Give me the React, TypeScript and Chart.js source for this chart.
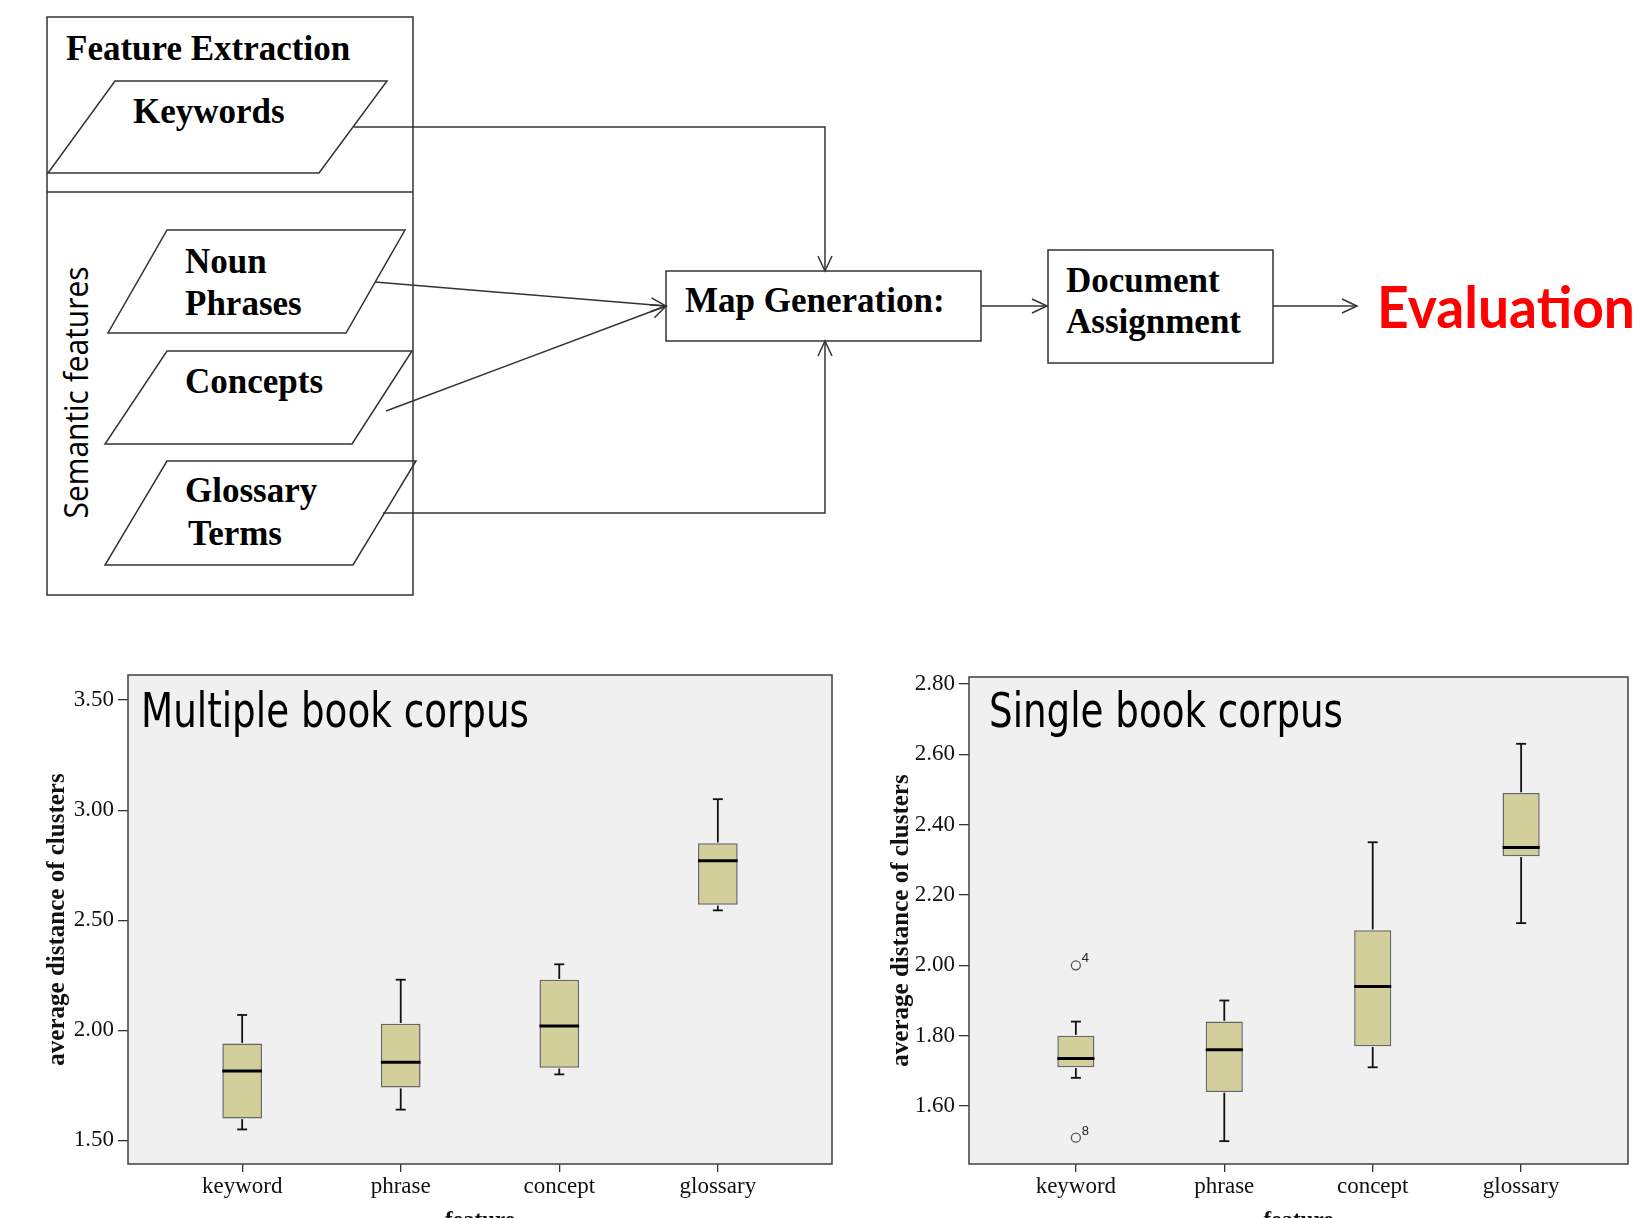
import React, { useEffect, useRef } from 'react';
import { Chart, registerables } from 'chart.js';

Chart.register(...registerables);

// ---------------- data ----------------
const categories = ['keyword', 'phrase', 'concept', 'glossary'];
const categoryPositions = [1, 2, 3, 4];

// Multiple book corpus
const multiMin = [1.55, 1.64, 1.8, 2.545];
const multiQ1 = [1.6, 1.74, 1.83, 2.57];
const multiMedian = [1.815, 1.855, 2.02, 2.77];
const multiQ3 = [1.94, 2.03, 2.23, 2.85];
const multiMax = [2.07, 2.23, 2.3, 3.05];
const multiYTicks = [1.5, 2.0, 2.5, 3.0, 3.5];

// Single book corpus
const singleMin = [1.68, 1.5, 1.71, 2.12];
const singleQ1 = [1.71, 1.64, 1.77, 2.31];
const singleMedian = [1.735, 1.76, 1.94, 2.335];
const singleQ3 = [1.8, 1.84, 2.1, 2.49];
const singleMax = [1.84, 1.9, 2.35, 2.63];
const singleOutlierX = [1, 1];
const singleOutlierY = [2.0, 1.51];
const singleOutlierLabels = ['4', '8'];
const singleYTicks = [1.6, 1.8, 2.0, 2.2, 2.4, 2.6, 2.8];

const multiTitle = 'Multiple book corpus';
const singleTitle = 'Single book corpus';
const yAxisTitle = 'average distance of clusters';
const xAxisTitle = 'feature';

// ---------------- styles ----------------
const SERIF = "'Liberation Serif', 'Times New Roman', serif";
const BOX_FILL = '#d3cf9b';
const PLOT_BG = '#f0f0f0';

type BoxProps = {
  left: number; top: number; width: number; height: number;
  mins: number[]; q1s: number[]; medians: number[]; q3s: number[]; maxs: number[];
  outX?: number[]; outY?: number[]; outLabels?: string[];
  yMin: number; yMax: number; yTicks: number[];
  title: string; titleX: number; titleY: number; titleWidth: number;
  padTop: number; padRight: number; yAxisWidth: number; xAxisHeight: number; yTitlePad: number;
};

function BoxChart(p: BoxProps) {
  const ref = useRef<HTMLCanvasElement>(null);
  useEffect(() => {
    const canvas = ref.current as HTMLCanvasElement;
    const line = (ctx: any, x1: number, y1: number, x2: number, y2: number) => {
      ctx.beginPath(); ctx.moveTo(x1, y1); ctx.lineTo(x2, y2); ctx.stroke();
    };
    const plugin = {
      id: 'boxplotExtras',
      beforeDraw(chart: any) {
        const { ctx, chartArea: a } = chart;
        ctx.save();
        ctx.fillStyle = PLOT_BG;
        ctx.fillRect(a.left, a.top, a.right - a.left, a.bottom - a.top);
        ctx.restore();
      },
      afterDatasetsDraw(chart: any) {
        const { ctx } = chart;
        const xs = chart.scales.x;
        const ys = chart.scales.y;
        const meta = chart.getDatasetMeta(0);
        ctx.save();
        ctx.strokeStyle = '#111';
        categoryPositions.forEach((pos, i) => {
          const x = xs.getPixelForValue(pos);
          const bar: any = meta.data[i];
          const half = bar.width / 2;
          const cap = 5;
          const pMax = ys.getPixelForValue(p.maxs[i]);
          const pMin = ys.getPixelForValue(p.mins[i]);
          const pQ1 = ys.getPixelForValue(p.q1s[i]);
          const pQ3 = ys.getPixelForValue(p.q3s[i]);
          const pMed = ys.getPixelForValue(p.medians[i]);
          ctx.lineWidth = 1.8;
          line(ctx, x, pQ3 - 0.75, x, pMax);
          line(ctx, x - cap, pMax, x + cap, pMax);
          line(ctx, x, pQ1 + 0.75, x, pMin);
          line(ctx, x - cap, pMin, x + cap, pMin);
          ctx.lineWidth = 3;
          ctx.strokeStyle = '#000';
          line(ctx, bar.x - half, pMed, bar.x + half, pMed);
          ctx.strokeStyle = '#111';
        });
        if (p.outX && p.outY && p.outLabels) {
          ctx.fillStyle = '#222';
          ctx.font = "13px 'Liberation Sans', sans-serif";
          ctx.textAlign = 'left';
          ctx.textBaseline = 'alphabetic';
          p.outX.forEach((ox, i) => {
            const px = xs.getPixelForValue(ox);
            const py = ys.getPixelForValue((p.outY as number[])[i]);
            ctx.fillText((p.outLabels as string[])[i], px + 6, py - 3);
          });
        }
        ctx.restore();
      },
      afterDraw(chart: any) {
        const { ctx, chartArea: a } = chart;
        ctx.save();
        ctx.strokeStyle = '#4a4a4a';
        ctx.lineWidth = 1.6;
        ctx.strokeRect(a.left, a.top, a.right - a.left, a.bottom - a.top);
        ctx.font = "48px 'DejaVu Sans', sans-serif";
        ctx.fillStyle = '#000';
        ctx.textBaseline = 'alphabetic';
        ctx.textAlign = 'left';
        const w = ctx.measureText(p.title).width;
        ctx.translate(p.titleX, p.titleY);
        ctx.scale(p.titleWidth / w, 1);
        ctx.fillText(p.title, 0, 0);
        ctx.restore();
      },
    };

    const datasets: any[] = [
      {
        type: 'bar',
        data: categoryPositions.map((x, i) => ({ x, y: [p.q1s[i], p.q3s[i]] })),
        backgroundColor: BOX_FILL,
        borderColor: '#666',
        borderWidth: 1.5,
        borderSkipped: false,
        barPercentage: 0.25,
        categoryPercentage: 1,
        order: 2,
      },
    ];
    if (p.outX && p.outY) {
      datasets.push({
        type: 'scatter',
        data: p.outX.map((x, i) => ({ x, y: (p.outY as number[])[i] })),
        pointRadius: 4.5,
        pointBackgroundColor: 'rgba(0,0,0,0)',
        pointBorderColor: '#555',
        pointBorderWidth: 1.3,
        order: 1,
      });
    }

    const tickFont = { family: SERIF, size: 23 };
    const chart = new Chart(canvas, {
      type: 'bar',
      data: { datasets },
      options: {
        responsive: false,
        animation: false,
        devicePixelRatio: 1,
        events: [],
        layout: { padding: { left: 0, top: p.padTop, right: p.padRight, bottom: 0 } },
        plugins: { legend: { display: false }, tooltip: { enabled: false }, title: { display: false } },
        scales: {
          x: {
            type: 'linear',
            min: 0.28,
            max: 4.72,
            offset: false,
            afterBuildTicks: (s: any) => { s.ticks = categoryPositions.map((v) => ({ value: v })); },
            afterFit: (s: any) => { s.height = p.xAxisHeight; },
            ticks: {
              callback: (v: any) => categories[categoryPositions.indexOf(Number(v))] ?? '',
              font: tickFont,
              color: '#111',
              padding: 1,
              maxRotation: 0,
              autoSkip: false,
            },
            grid: { drawOnChartArea: false, drawTicks: true, tickLength: 8, color: '#333', lineWidth: 1.3, offset: false },
            border: { display: false },
            title: {
              display: true,
              text: xAxisTitle,
              font: { family: SERIF, size: 23, weight: 'bold' },
              color: '#111',
              padding: { top: 0, bottom: 15 },
            },
          },
          y: {
            type: 'linear',
            min: p.yMin,
            max: p.yMax,
            afterBuildTicks: (s: any) => { s.ticks = p.yTicks.map((v) => ({ value: v })); },
            afterFit: (s: any) => { s.width = p.yAxisWidth; },
            ticks: {
              callback: (v: any) => Number(v).toFixed(2),
              font: tickFont,
              color: '#111',
              padding: 4,
            },
            grid: { drawOnChartArea: false, drawTicks: true, tickLength: 10, color: '#333', lineWidth: 1.3 },
            border: { display: false },
            title: {
              display: true,
              text: yAxisTitle,
              font: { family: SERIF, size: 25, weight: 'bold' },
              color: '#111',
              padding: { top: p.yTitlePad, bottom: 0 },
            },
          },
        },
      } as any,
      plugins: [plugin as any],
    });
    return () => chart.destroy();
  }, []);
  return (
    <canvas
      ref={ref}
      width={p.width}
      height={p.height}
      style={{ position: 'absolute', left: p.left, top: p.top, width: p.width, height: p.height }}
    />
  );
}

// ---------------- flowchart ----------------
function head(tx: number, ty: number, fx: number, fy: number, len = 15, half = 7) {
  const dx = tx - fx, dy = ty - fy;
  const d = Math.hypot(dx, dy);
  const ux = dx / d, uy = dy / d;
  const bx = tx - ux * len, by = ty - uy * len;
  const nx = -uy, ny = ux;
  return `${bx + nx * half},${by + ny * half} ${tx},${ty} ${bx - nx * half},${by - ny * half}`;
}

function Flowchart() {
  const stroke = '#333';
  const sw = 1.5;
  const t = { fontFamily: SERIF, fontWeight: 700, fontSize: 35, fill: '#000' } as any;
  const arrows: number[][][] = [
    [[354, 127], [825, 127], [825, 271]],
    [[375, 282], [666, 306]],
    [[386, 411], [666, 306]],
    [[383, 513], [825, 513], [825, 341]],
    [[981, 306], [1047, 306]],
    [[1273, 306], [1357, 306]],
  ];
  return (
    <svg width={1645} height={640} style={{ position: 'absolute', left: 0, top: 0 }}>
      <rect x={47} y={17} width={366} height={578} fill="none" stroke={stroke} strokeWidth={sw} />
      <line x1={47} y1={192} x2={413} y2={192} stroke={stroke} strokeWidth={sw} />
      <polygon points="115,81 387,81 319,173 48,173" fill="none" stroke={stroke} strokeWidth={sw} />
      <polygon points="167,230 405,230 346,333 108,333" fill="none" stroke={stroke} strokeWidth={sw} />
      <polygon points="167,351 412,351 352,444 105,444" fill="none" stroke={stroke} strokeWidth={sw} />
      <polygon points="167,461 416,461 353,565 105,565" fill="none" stroke={stroke} strokeWidth={sw} />
      <rect x={666} y={271} width={315} height={70} fill="none" stroke={stroke} strokeWidth={sw} />
      <rect x={1048} y={250} width={225} height={113} fill="none" stroke={stroke} strokeWidth={sw} />
      {arrows.map((pts, i) => {
        const n = pts.length;
        return (
          <g key={i}>
            <polyline points={pts.map((q) => q.join(',')).join(' ')} fill="none" stroke={stroke} strokeWidth={sw} />
            <polyline points={head(pts[n - 1][0], pts[n - 1][1], pts[n - 2][0], pts[n - 2][1])} fill="none" stroke={stroke} strokeWidth={sw} />
          </g>
        );
      })}
      <text x={66} y={60} {...t}>Feature Extraction</text>
      <text x={133} y={123} {...t}>Keywords</text>
      <text x={185} y={273} {...t}>Noun</text>
      <text x={185} y={315} {...t}>Phrases</text>
      <text x={185} y={393} {...t}>Concepts</text>
      <text x={185} y={502} {...t}>Glossary</text>
      <text x={188} y={545} {...t}>Terms</text>
      <text x={685} y={312} {...t}>Map Generation:</text>
      <text x={1066} y={292} {...t}>Document</text>
      <text x={1066} y={333} {...t}>Assignment</text>
      <text
        x={0}
        y={0}
        transform="translate(88,392.5) rotate(-90)"
        textAnchor="middle"
        fontFamily="'Open Sans', 'Noto Sans', sans-serif"
        fontSize={32}
        fill="#000"
        textLength={252}
        lengthAdjust="spacingAndGlyphs"
      >
        Semantic features
      </text>
      <text
        x={1377}
        y={328}
        fontFamily="Lato, 'Open Sans', sans-serif"
        fontWeight={700}
        fontSize={57}
        fill="#ff0000"
        textLength={258}
        lengthAdjust="spacingAndGlyphs"
      >
        Evaluation
      </text>
    </svg>
  );
}

export default function App() {
  return (
    <div style={{ position: 'absolute', left: 0, top: 0, width: 1645, height: 1218, overflow: 'hidden', background: '#fff' }}>
      <Flowchart />
      <BoxChart
        left={0} top={640} width={845} height={610}
        mins={multiMin} q1s={multiQ1} medians={multiMedian} q3s={multiQ3} maxs={multiMax}
        yMin={1.393} yMax={3.614} yTicks={multiYTicks}
        title={multiTitle} titleX={141} titleY={87} titleWidth={388}
        padTop={35} padRight={13} yAxisWidth={128} xAxisHeight={86} yTitlePad={43}
      />
      <BoxChart
        left={845} top={640} width={800} height={610}
        mins={singleMin} q1s={singleQ1} medians={singleMedian} q3s={singleQ3} maxs={singleMax}
        outX={singleOutlierX} outY={singleOutlierY} outLabels={singleOutlierLabels}
        yMin={1.435} yMax={2.82} yTicks={singleYTicks}
        title={singleTitle} titleX={144} titleY={87} titleWidth={354}
        padTop={37} padRight={17} yAxisWidth={124} xAxisHeight={86} yTitlePad={42}
      />
    </div>
  );
}
